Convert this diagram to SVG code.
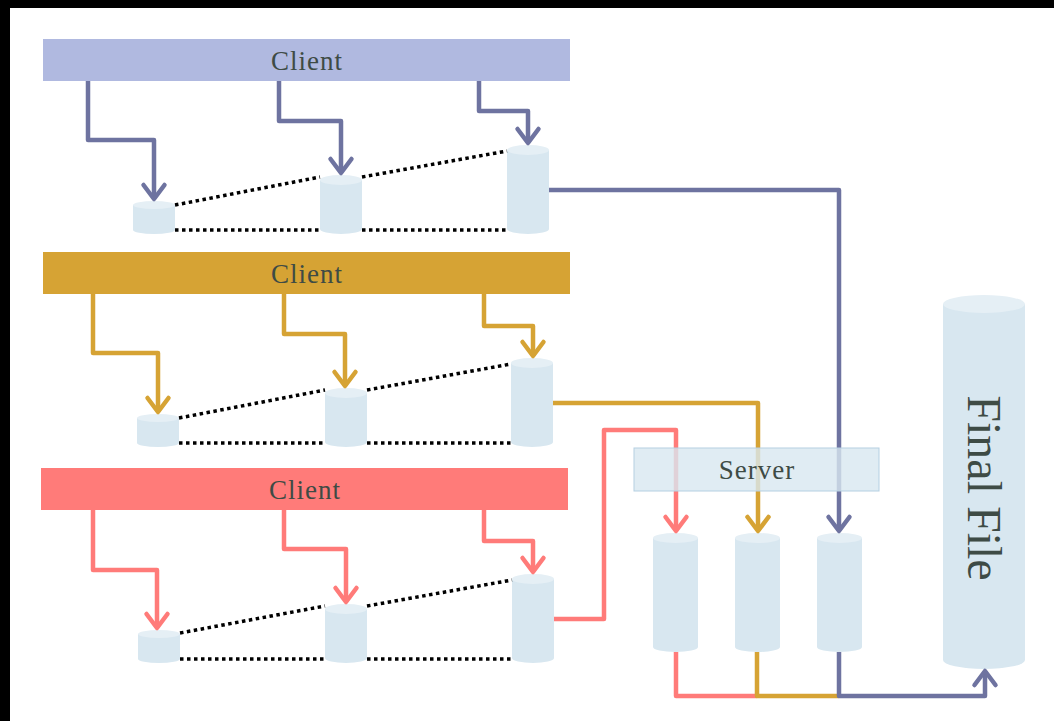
<svg xmlns="http://www.w3.org/2000/svg" width="1054" height="721" viewBox="0 0 1054 721">
<style>
.lbl{font-family:"Liberation Serif","DejaVu Serif",serif;fill:#3e4b45;text-anchor:middle;dominant-baseline:central}
.cyl-body{fill:#d8e7f0}
.cyl-top{fill:#e5eff5}
.dot{stroke:#000;stroke-width:3.5;stroke-dasharray:3.5 3.5;fill:none}
.c{fill:none;stroke-width:4.5;stroke-linejoin:round}
.blue{stroke:#6e73a0}
.yel{stroke:#d6a334}
.red{stroke:#ff7b79}
</style>
<defs>
<marker id="mb" markerUnits="userSpaceOnUse" viewBox="-20 -15 26 30" markerWidth="26" markerHeight="30" refX="0" refY="0" orient="auto"><path d="M-14,-10.5 L0,0 L-14,10.5" fill="none" stroke="#6e73a0" stroke-width="4.5" stroke-linejoin="round" stroke-linecap="round"/></marker>
<marker id="my" markerUnits="userSpaceOnUse" viewBox="-20 -15 26 30" markerWidth="26" markerHeight="30" refX="0" refY="0" orient="auto"><path d="M-14,-10.5 L0,0 L-14,10.5" fill="none" stroke="#d6a334" stroke-width="4.5" stroke-linejoin="round" stroke-linecap="round"/></marker>
<marker id="mr" markerUnits="userSpaceOnUse" viewBox="-20 -15 26 30" markerWidth="26" markerHeight="30" refX="0" refY="0" orient="auto"><path d="M-14,-10.5 L0,0 L-14,10.5" fill="none" stroke="#ff7b79" stroke-width="4.5" stroke-linejoin="round" stroke-linecap="round"/></marker>
</defs>
<rect x="0" y="0" width="1054" height="721" fill="#fff"/>
<rect x="0" y="0" width="1054" height="8" fill="#000"/>
<rect x="0" y="0" width="10" height="721" fill="#000"/>

<g id="client1"><rect x="43" y="39" width="527" height="42" fill="#b0b9e0"/><text class="lbl" x="307" y="61" font-size="27" letter-spacing="1">Client</text></g>
<g id="client2"><rect x="43" y="252" width="527" height="42" fill="#d6a334"/><text class="lbl" x="307" y="274" font-size="27" letter-spacing="1">Client</text></g>
<g id="client3"><rect x="41" y="468" width="527" height="42" fill="#ff7b79"/><text class="lbl" x="305" y="490" font-size="27" letter-spacing="1">Client</text></g>

<g id="r1c1"><path class="cyl-body" d="M133,205 V230 A21,4 0 0 0 175,230 V205 Z"/><ellipse class="cyl-top" cx="154" cy="205" rx="21" ry="4"/></g>
<g id="r1c2"><path class="cyl-body" d="M320,180 V229 A21,5 0 0 0 362,229 V180 Z"/><ellipse class="cyl-top" cx="341" cy="180" rx="21" ry="5"/></g>
<g id="r1c3"><path class="cyl-body" d="M507,150 V229 A21,5 0 0 0 549,229 V150 Z"/><ellipse class="cyl-top" cx="528" cy="150" rx="21" ry="5"/></g>

<g id="r2c1"><path class="cyl-body" d="M137,418 V443 A21,4 0 0 0 179,443 V418 Z"/><ellipse class="cyl-top" cx="158" cy="418" rx="21" ry="4"/></g>
<g id="r2c2"><path class="cyl-body" d="M325,393 V442 A21,5 0 0 0 367,442 V393 Z"/><ellipse class="cyl-top" cx="346" cy="393" rx="21" ry="5"/></g>
<g id="r2c3"><path class="cyl-body" d="M511,363 V442 A21,5 0 0 0 553,442 V363 Z"/><ellipse class="cyl-top" cx="532" cy="363" rx="21" ry="5"/></g>

<g id="r3c1"><path class="cyl-body" d="M138,634 V659 A21,4 0 0 0 180,659 V634 Z"/><ellipse class="cyl-top" cx="159" cy="634" rx="21" ry="4"/></g>
<g id="r3c2"><path class="cyl-body" d="M325,609 V658 A21,5 0 0 0 367,658 V609 Z"/><ellipse class="cyl-top" cx="346" cy="609" rx="21" ry="5"/></g>
<g id="r3c3"><path class="cyl-body" d="M512,579 V658 A21,5 0 0 0 554,658 V579 Z"/><ellipse class="cyl-top" cx="533" cy="579" rx="21" ry="5"/></g>

<g id="s1"><path class="cyl-body" d="M653,538 V647 A22.5,5 0 0 0 698,647 V538 Z"/><ellipse class="cyl-top" cx="675.5" cy="538" rx="22.5" ry="5"/></g>
<g id="s2"><path class="cyl-body" d="M735,538 V647 A22.5,5 0 0 0 780,647 V538 Z"/><ellipse class="cyl-top" cx="757.5" cy="538" rx="22.5" ry="5"/></g>
<g id="s3"><path class="cyl-body" d="M817,538 V647 A22.5,5 0 0 0 862,647 V538 Z"/><ellipse class="cyl-top" cx="839.5" cy="538" rx="22.5" ry="5"/></g>

<g id="final"><path class="cyl-body" d="M943,304 V660 A41,9 0 0 0 1025,660 V304 Z"/><ellipse class="cyl-top" cx="984" cy="304" rx="41" ry="9"/><text class="lbl" x="0" y="0" font-size="48" transform="translate(984,488) rotate(90)">Final File</text></g>

<g id="connectors">
<path class="dot" d="M175,205 L320,177 M362,177 L507,151 M175,230 H320 M362,230 H507"/>
<path class="dot" d="M179,418 L325,390 M367,390 L511,364 M179,443 H325 M367,443 H511"/>
<path class="dot" d="M180,633 L325,606 M367,606 L512,580 M180,659 H325 M367,659 H512"/>
<path class="c blue" marker-end="url(#mb)" d="M88,81 V140 H154 V199"/>
<path class="c blue" marker-end="url(#mb)" d="M279,81 V121 H341 V173"/>
<path class="c blue" marker-end="url(#mb)" d="M479,81 V111 H528 V143"/>
<path class="c blue" marker-end="url(#mb)" d="M549,190 H839 V531"/>
<path class="c yel" marker-end="url(#my)" d="M93,294 V353 H158 V412"/>
<path class="c yel" marker-end="url(#my)" d="M284,294 V334 H345 V386"/>
<path class="c yel" marker-end="url(#my)" d="M484,294 V326 H533 V356"/>
<path class="c yel" marker-end="url(#my)" d="M553,403 H758 V531"/>
<path class="c red" marker-end="url(#mr)" d="M93,510 V570 H157 V628"/>
<path class="c red" marker-end="url(#mr)" d="M284,510 V549 H346 V602"/>
<path class="c red" marker-end="url(#mr)" d="M484,510 V541 H533 V572"/>
<path class="c red" marker-end="url(#mr)" d="M554,619 H604 V430 H676 V531"/>
<path class="c red" d="M676,652 V696 H757"/>
<path class="c yel" d="M757,652 V696 H839"/>
<path class="c blue" marker-end="url(#mb)" d="M839,652 V696 H985 V671"/>
</g>

<g id="server"><rect x="634" y="448" width="245" height="43" fill="#d8e7f0" fill-opacity="0.8" stroke="#b5d0e2" stroke-width="1"/><text class="lbl" x="757" y="470" font-size="27" letter-spacing="1">Server</text></g>
</svg>
